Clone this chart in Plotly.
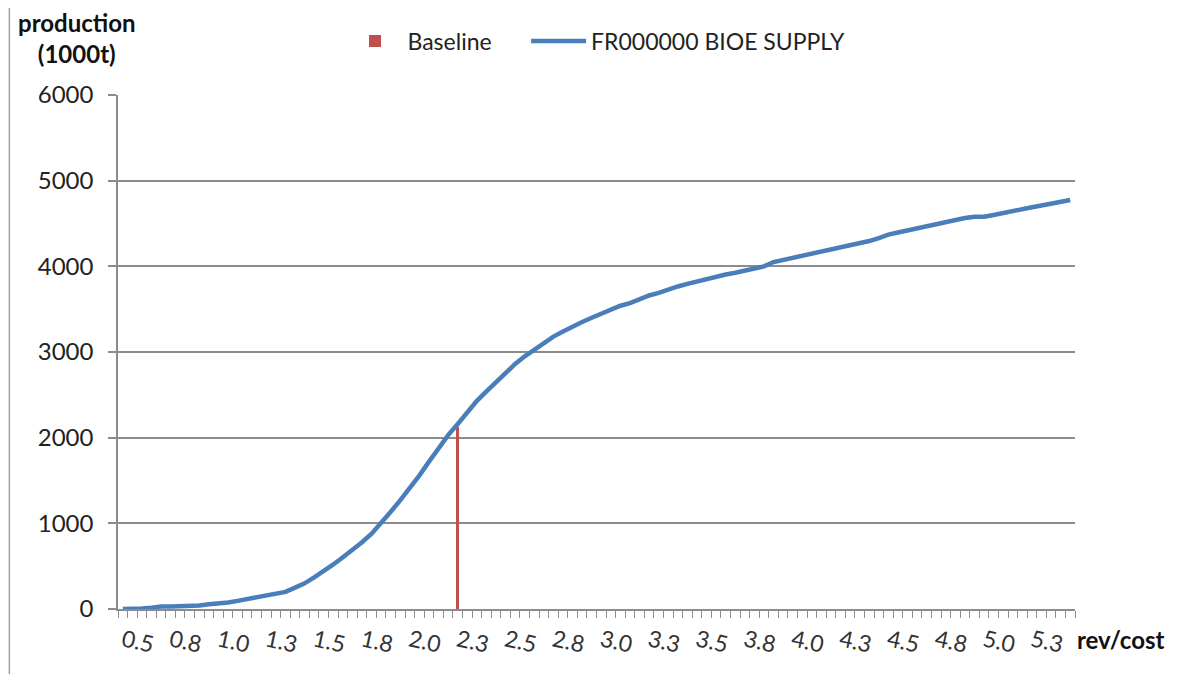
import plotly.graph_objects as go

# rev/cost categories (step 0.05)
rev_cost = [round(0.5 + 0.05 * i, 2) for i in range(100)]

supply = [
    0, 0, 5, 15, 30, 30, 30, 30, 40, 55,
    60, 75, 95, 115, 140, 160, 180, 200, 250, 300,
    370, 440, 520, 605, 690, 780, 880, 1000, 1135, 1270,
    1410, 1560, 1720, 1880, 2030, 2160, 2300, 2430, 2540, 2650,
    2760, 2860, 2950, 3030, 3110, 3180, 3240, 3300, 3350, 3400,
    3445, 3490, 3540, 3570, 3620, 3660, 3690, 3730, 3765, 3795,
    3825, 3850, 3880, 3905, 3925, 3950, 3975, 4000, 4050, 4075,
    4100, 4125, 4150, 4170, 4195, 4215, 4240, 4265, 4295, 4330,
    4370, 4395, 4420, 4450, 4470, 4495, 4520, 4545, 4565, 4580,
    4580, 4600, 4625, 4650, 4670, 4690, 4710, 4735, 4755, 4775,
]

baseline_x = [2.25]
baseline_y = [2130]

tick_vals = [0.5, 0.75, 1.0, 1.25, 1.5, 1.75, 2.0, 2.25, 2.5, 2.75,
             3.0, 3.25, 3.5, 3.75, 4.0, 4.25, 4.5, 4.75, 5.0, 5.25]
tick_text = ["0.5", "0.8", "1.0", "1.3", "1.5", "1.8", "2.0", "2.3", "2.5", "2.8",
             "3.0", "3.3", "3.5", "3.8", "4.0", "4.3", "4.5", "4.8", "5.0", "5.3"]

FONT = "Lato"
GRID = "#8c8c8c"

fig = go.Figure()
fig.add_trace(go.Bar(
    x=baseline_x, y=baseline_y, name="Baseline\u00a0\u00a0\u00a0\u00a0\u00a0",
    marker=dict(color="#C0504D", line=dict(width=0)), width=0.016,
))
fig.add_trace(go.Scatter(
    x=rev_cost, y=supply, name="FR000000 BIOE SUPPLY", mode="lines",
    line=dict(color="#4A7EBB", width=4.5),
))

# page body adds an 8px offset, so the figure is 8px smaller and margins shifted
fig.update_layout(
    width=1177, height=666,
    margin=dict(l=110, r=110, t=87, b=65),
    paper_bgcolor="white", plot_bgcolor="white",
    font=dict(family=FONT, size=23, color="#222222"),
    showlegend=True,
    legend=dict(orientation="h", x=0.5, xanchor="center", y=1.105, yanchor="middle",
                font=dict(family=FONT, size=23, color="#222222"), itemwidth=55,
                traceorder="normal", bgcolor="rgba(0,0,0,0)"),
    bargap=0,
)

fig.update_xaxes(
    range=[0.475, 5.475], tickmode="array", tickvals=tick_vals, ticktext=tick_text,
    tickangle=12, tickfont=dict(family=FONT, size=23, color="#333333"),
    ticklabelstandoff=8,
    ticks="", showgrid=False, zeroline=False,
    showline=True, linecolor=GRID, linewidth=1.5,
    minor=dict(ticks="outside", tick0=0.475, dtick=0.05, ticklen=7,
               tickcolor=GRID, tickwidth=1.2, showgrid=False),
)
fig.update_yaxes(
    range=[0, 6000], dtick=1000, tickformat="d",
    tickfont=dict(family=FONT, size=24, color="#222222"),
    ticklabelstandoff=10,
    ticks="outside", ticklen=8, tickcolor=GRID, tickwidth=1.5,
    showgrid=True, gridcolor=GRID, gridwidth=1.5, zeroline=False,
    showline=True, linecolor=GRID, linewidth=1.5,
)

fig.add_annotation(text="<b>production</b><br><b>(1000t)</b>", xref="paper", yref="paper",
                   x=-0.043, y=1.111, xanchor="center", yanchor="middle", showarrow=False,
                   align="center", font=dict(family=FONT, size=24, color="#111111"))
fig.add_annotation(text="<b>rev/cost</b>", xref="paper", yref="paper",
                   x=1.048, y=-0.06, xanchor="center", yanchor="middle", showarrow=False,
                   font=dict(family=FONT, size=24, color="#111111"))

# outer chart border (partly cropped in the reference)
fig.add_shape(type="rect", xref="paper", yref="paper",
              x0=-0.1135, x1=1.4, y0=-0.3, y1=1.181,
              line=dict(color="#a0a0a0", width=1.5), layer="below")

fig.write_html("out.html")
